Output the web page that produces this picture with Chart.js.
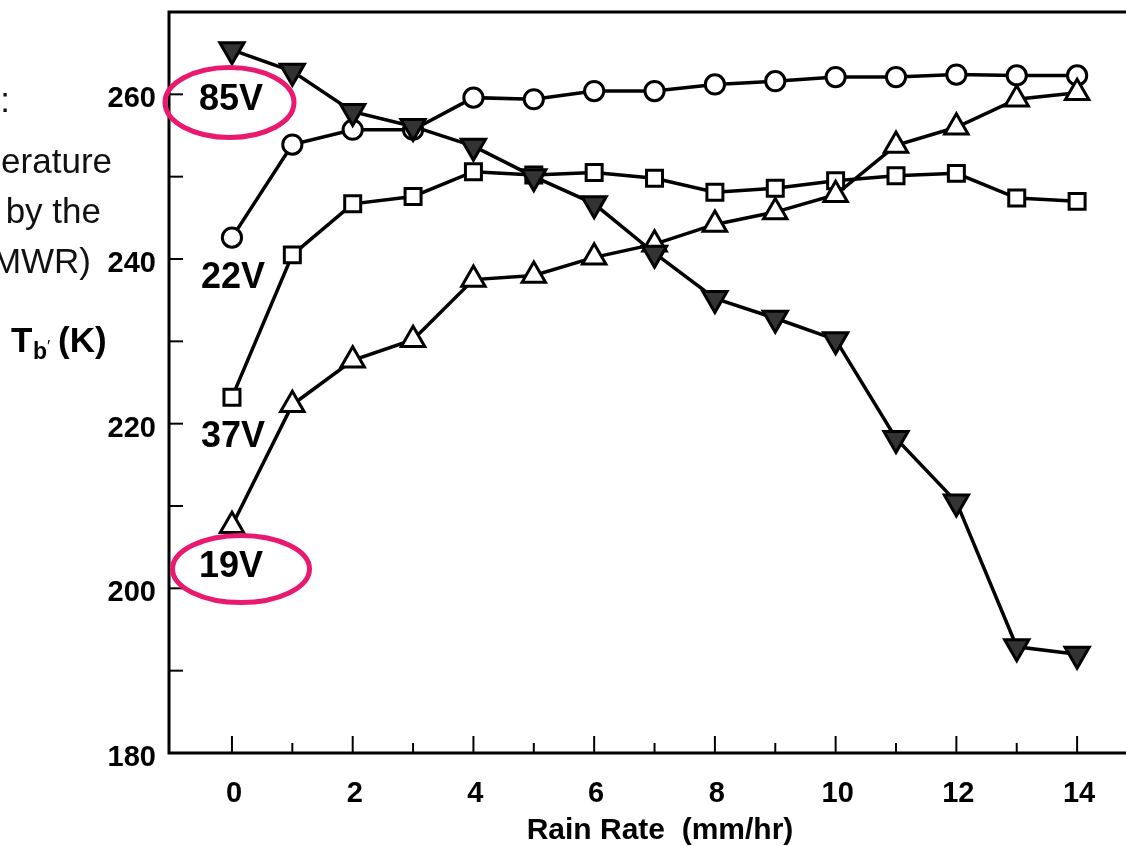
<!DOCTYPE html>
<html lang="en">
  <head>
    <meta charset="UTF-8" />
    <title>Tb vs rain rate</title>
    <script src="https://cdn.jsdelivr.net/npm/chart.js"></script>
    <style>
      html, body { margin: 0; padding: 0; background: #fff; overflow: hidden; }
      #wrap { position: relative; width: 1126px; height: 846px; }
    </style>
  </head>
  <body>
    <div id="wrap"><canvas id="chart"></canvas></div>
    <script>
      // rain rate (mm/hr) and brightness temperature (K) per channel
      const rainRate = [0, 1, 2, 3, 4, 5, 6, 7, 8, 9, 10, 11, 12, 13, 14];
      const tb19V = [207.6, 222.3, 227.7, 230.2, 237.5, 238.0, 240.2, 241.8, 244.2, 245.7, 247.8, 253.8, 256.0, 259.4, 260.2];
      const tb22V = [242.6, 253.9, 255.7, 255.7, 259.6, 259.4, 260.4, 260.4, 261.2, 261.6, 262.1, 262.1, 262.4, 262.3, 262.3];
      const tb37V = [223.2, 240.5, 246.7, 247.6, 250.6, 250.2, 250.5, 249.8, 248.1, 248.6, 249.5, 250.1, 250.4, 247.4, 247.0];
      const tb85V = [265.4, 262.8, 257.9, 256.1, 253.7, 250.0, 246.7, 240.7, 235.2, 232.8, 230.2, 218.2, 210.5, 192.9, 192.0];
      const yTickLabels = [180, 200, 220, 240, 260];
      const xTickLabels = [0, 2, 4, 6, 8, 10, 12, 14];

      const FONT = '"Liberation Sans", Arial, Helvetica, sans-serif';
      const PINK = '#e8196f';

      const pts = (arr) => rainRate.map((r, i) => ({ x: r, y: arr[i] }));

      // keep chart area fixed: no extra edge padding from the scales
      const noPad = (s) => { s.paddingTop = s.paddingBottom = s.paddingLeft = s.paddingRight = 0; };

      const decor = {
        id: 'decor',
        beforeDatasetsDraw(chart) {
          const { ctx, chartArea: a, scales: { x, y } } = chart;
          ctx.save();
          ctx.strokeStyle = '#000';
          ctx.lineWidth = 2;
          // inward ticks on x, every 1 mm/hr
          x.ticks.filter(t => Number.isInteger(t.value) && t.value >= 0).forEach(t => {
            const px = x.getPixelForValue(t.value);
            const len = t.value % 2 === 0 ? 17 : 10;
            ctx.beginPath();
            ctx.moveTo(px, a.bottom);
            ctx.lineTo(px, a.bottom - len);
            ctx.stroke();
          });
          // inward ticks on y, every 10 K
          y.ticks.forEach(t => {
            const py = y.getPixelForValue(t.value);
            ctx.beginPath();
            ctx.moveTo(a.left, py);
            ctx.lineTo(a.left + 14, py);
            ctx.stroke();
          });
          // frame: top, left, bottom
          ctx.lineWidth = 3;
          ctx.beginPath();
          ctx.moveTo(a.right, a.top);
          ctx.lineTo(a.left, a.top);
          ctx.lineTo(a.left, a.bottom);
          ctx.lineTo(a.right, a.bottom);
          ctx.stroke();
          ctx.restore();
        },
        afterDraw(chart) {
          const { ctx } = chart;
          ctx.save();
          ctx.fillStyle = '#000';
          ctx.textBaseline = 'alphabetic';

          // channel labels
          ctx.font = 'bold 36px ' + FONT;
          ctx.textAlign = 'left';
          ctx.fillText('85V', 199, 110);
          ctx.fillText('22V', 201, 288);
          ctx.fillText('37V', 201, 447);
          ctx.fillText('19V', 199, 577);

          // x axis title
          ctx.font = 'bold 30px ' + FONT;
          ctx.textAlign = 'center';
          ctx.fillText('Rain Rate  (mm/hr)', 660, 839);

          // y axis title  Tb' (K)
          ctx.textAlign = 'left';
          ctx.font = 'bold 35px ' + FONT;
          ctx.fillText('T', 11, 352);
          ctx.font = 'bold 23px ' + FONT;
          ctx.fillText('b', 33, 359);
          ctx.font = '17px ' + FONT;
          ctx.fillText('\u2032', 47, 352);
          ctx.font = 'bold 35px ' + FONT;
          ctx.fillText('(K)', 58, 352);

          // slide caption text cut off at the left edge
          ctx.fillStyle = '#111';
          ctx.font = '35px ' + FONT;
          ctx.textAlign = 'right';
          ctx.fillText('Figure:', 10, 112);
          ctx.fillText('Brightness temperature', 112, 173);
          ctx.fillText('as observed by the', 101, 223);
          ctx.fillText('microwave radiometer (MWR)', 91, 273);

          // highlight ellipses
          ctx.strokeStyle = PINK;
          ctx.lineWidth = 5;
          ctx.beginPath();
          ctx.ellipse(229.5, 102.5, 64.5, 35, 0, 0, Math.PI * 2);
          ctx.stroke();
          ctx.beginPath();
          ctx.ellipse(241, 569, 68.5, 33.5, 0, 0, Math.PI * 2);
          ctx.stroke();
          ctx.restore();
        }
      };

      const line = { borderColor: '#000', borderWidth: 3.5, tension: 0, pointBorderColor: '#000', pointBorderWidth: 3 };

      new Chart(document.getElementById('chart'), {
        type: 'line',
        data: {
          datasets: [
            { label: '85V', data: pts(tb85V), ...line, pointStyle: 'triangle', rotation: 180, pointRadius: 14, pointBackgroundColor: '#333' },
            { label: '19V', data: pts(tb19V), ...line, pointStyle: 'triangle', pointRadius: 13.5, pointBackgroundColor: '#fff' },
            { label: '37V', data: pts(tb37V), ...line, pointStyle: 'rect', pointRadius: 11.3, pointBackgroundColor: '#fff' },
            { label: '22V', data: pts(tb22V), ...line, pointStyle: 'circle', pointRadius: 9.6, pointBackgroundColor: '#fff' }
          ]
        },
        options: {
          responsive: true,
          maintainAspectRatio: false,
          animation: false,
          layout: { autoPadding: false, padding: { top: 12, right: 0, left: 0, bottom: 0 } },
          plugins: { legend: { display: false }, tooltip: { enabled: false } },
          scales: {
            x: {
              type: 'linear',
              min: -1.043,
              max: 14.81,
              grid: { display: false, drawTicks: false },
              border: { display: false },
              afterFit: (s) => { s.height = 93; noPad(s); },
              ticks: {
                stepSize: 1,
                includeBounds: false,
                autoSkip: false,
                maxRotation: 0,
                padding: 24,
                labelOffset: 2,
                color: '#000',
                font: { family: FONT, size: 29, weight: 'bold' },
                callback: (v) => xTickLabels.includes(v) ? String(v) : ''
              }
            },
            y: {
              min: 180,
              max: 270,
              grid: { display: false, drawTicks: false },
              border: { display: false },
              afterFit: (s) => { s.width = 169; noPad(s); },
              ticks: {
                stepSize: 10,
                padding: 13,
                labelOffset: 5,
                color: '#000',
                font: { family: FONT, size: 29, weight: 'bold' },
                callback: (v) => yTickLabels.includes(v) ? String(v) : ''
              }
            }
          }
        },
        plugins: [decor]
      });
    </script>
  </body>
</html>
